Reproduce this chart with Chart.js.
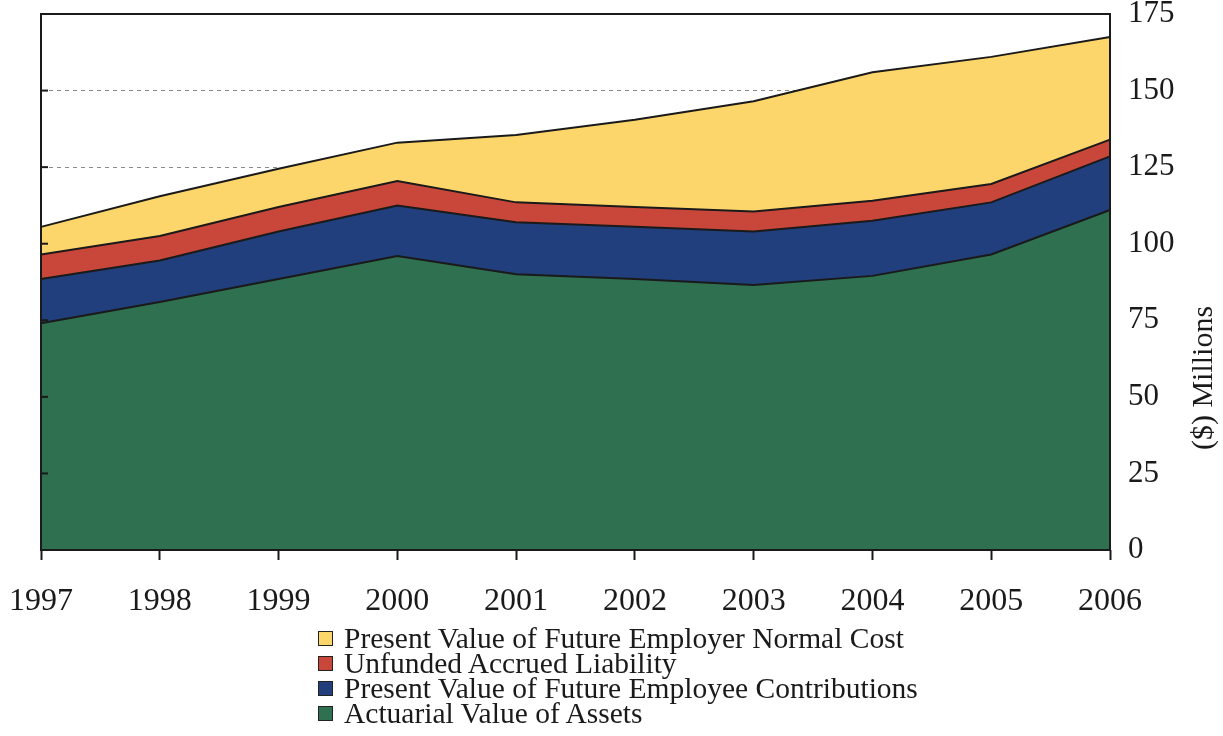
<!DOCTYPE html>
<html>
<head>
<meta charset="utf-8">
<script src="https://cdn.jsdelivr.net/npm/chart.js@4"></script>
<style>
    body { margin: 0; background: #ffffff; }
    #wrap { position: relative; width: 1223px; height: 736px; }
    #legend {
        position: absolute; left: 318px; top: 626px;
        font-family: "Liberation Serif", "Times New Roman", serif;
        font-size: 29.5px; color: #1a1a1a; line-height: 25px;
    }
    #legend div { display: flex; align-items: center; white-space: nowrap; height: 25px; }
    #legend span.box {
        display: inline-block; width: 13px; height: 13px;
        border: 1.5px solid #222; margin-right: 11px;
    }
</style>
</head>
<body>
<div id="wrap">
    <canvas id="fundChart" width="1223" height="736"></canvas>
    <div id="legend"></div>
</div>
<script>
const years = ['1997', '1998', '1999', '2000', '2001', '2002', '2003', '2004', '2005', '2006'];
const yTicks = [0, 25, 50, 75, 100, 125, 150, 175];

// ($) millions, stacked bottom to top
const actuarialAssets     = [74, 81, 88.5, 96, 90, 88.5, 86.5, 89.5, 96.5, 111];
const employeeContrib     = [14.5, 13.5, 15.5, 16.5, 17, 17, 17.5, 18, 17, 17.5];
const unfundedLiability   = [8, 8, 8, 8, 6.5, 6.5, 6.5, 6.5, 6, 5.5];
const employerNormalCost  = [9, 13, 12.5, 12.5, 22, 28.5, 36, 42, 41.5, 33.5];

const serif = "'Liberation Serif', 'Times New Roman', serif";

// box round the plot, short inner ticks on the left edge, rotated axis title
const framePlugin = {
    id: 'frame',
    afterDatasetsDraw(chart) {
        const { ctx, chartArea: a, scales: { y } } = chart;
        ctx.save();
        ctx.strokeStyle = '#1a1a1a';
        ctx.lineWidth = 2;
        yTicks.forEach(v => {
            const py = y.getPixelForValue(v);
            ctx.beginPath();
            ctx.moveTo(a.left, py);
            ctx.lineTo(a.left + 7, py);
            ctx.stroke();
        });
        ctx.strokeRect(a.left, a.top, a.right - a.left, a.bottom - a.top);
        ctx.restore();
    },
    afterDraw(chart) {
        const { ctx } = chart;
        ctx.save();
        ctx.translate(1204, 378);
        ctx.rotate(-Math.PI / 2);
        ctx.font = '30px ' + serif;
        ctx.fillStyle = '#1a1a1a';
        ctx.textAlign = 'center';
        ctx.textBaseline = 'middle';
        ctx.fillText('($) Millions', 0, 0);
        ctx.restore();
    }
};

function area(label, data, color, fill) {
    return {
        label: label,
        data: data,
        backgroundColor: color,
        borderColor: '#1a1a1a',
        borderWidth: 2,
        pointRadius: 0,
        tension: 0,
        fill: fill
    };
}

const chart = new Chart(document.getElementById('fundChart'), {
    type: 'line',
    data: {
        labels: years,
        datasets: [
            area('Actuarial Value of Assets', actuarialAssets, '#2e7050', 'origin'),
            area('Present Value of Future Employee Contributions', employeeContrib, '#203f7c', '-1'),
            area('Unfunded Accrued Liability', unfundedLiability, '#c9473a', '-1'),
            area('Present Value of Future Employer Normal Cost', employerNormalCost, '#fdd66b', '-1')
        ]
    },
    options: {
        responsive: false,
        animation: false,
        layout: { padding: { left: 41, top: 14, right: 0, bottom: 124 } },
        plugins: {
            legend: { display: false },
            tooltip: { enabled: false }
        },
        scales: {
            x: {
                offset: false,
                afterFit: s => {
                    s.height = 62;
                    s.paddingLeft = 0;
                    s.paddingRight = 0;
                },
                ticks: {
                    color: '#1a1a1a',
                    padding: 22,
                    maxRotation: 0,
                    font: { size: 32, family: serif }
                },
                grid: {
                    drawOnChartArea: false,
                    drawTicks: true,
                    tickLength: 10,
                    tickColor: '#1a1a1a',
                    tickWidth: 2
                },
                border: { display: false }
            },
            y: {
                position: 'right',
                stacked: true,
                min: 0,
                max: 175,
                afterFit: s => {
                    s.width = 113;
                    s.paddingTop = 0;
                    s.paddingBottom = 0;
                },
                ticks: {
                    stepSize: 25,
                    color: '#1a1a1a',
                    padding: 18,
                    font: { size: 31, family: serif }
                },
                grid: {
                    color: '#8a8a8a',
                    lineWidth: 1,
                    drawTicks: false
                },
                border: { display: false, dash: [4, 4] }
            }
        }
    },
    plugins: [framePlugin]
});

// legend list, top series first
const legendEl = document.getElementById('legend');
chart.data.datasets.slice().reverse().forEach(ds => {
    const row = document.createElement('div');
    const box = document.createElement('span');
    box.className = 'box';
    box.style.background = ds.backgroundColor;
    row.appendChild(box);
    row.appendChild(document.createTextNode(ds.label));
    legendEl.appendChild(row);
});
</script>
</body>
</html>
